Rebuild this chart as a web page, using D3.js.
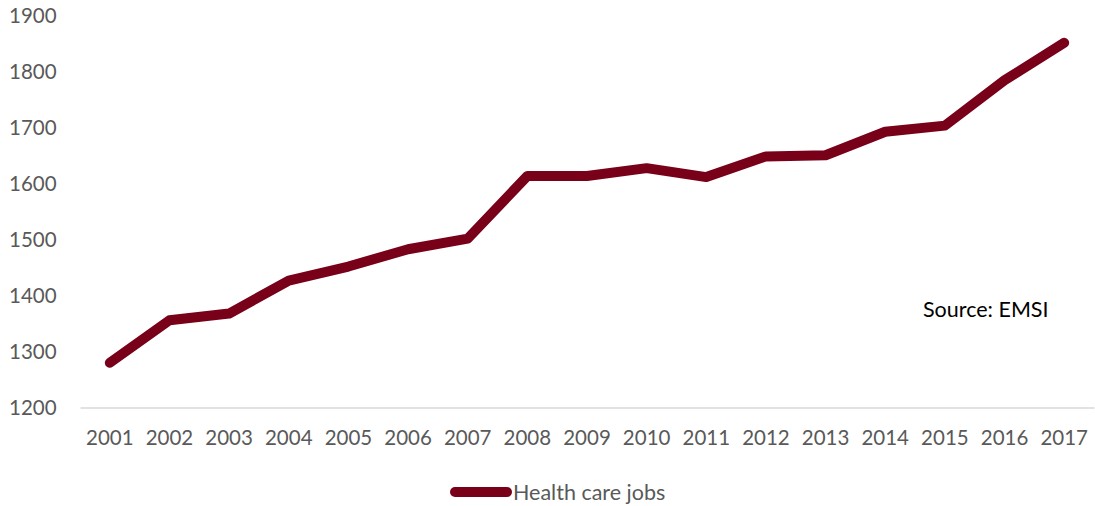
<!DOCTYPE html>
<html>
<head>
<meta charset="utf-8">
<script src="https://cdn.jsdelivr.net/npm/d3@7"></script>
<style>
  html, body { margin: 0; padding: 0; background: #fff; }
  svg { display: block; font-family: Lato, "Open Sans", sans-serif; }
</style>
</head>
<body>
<svg id="chart" width="1095" height="506"></svg>
<script>
// Health care jobs, annual totals
const years = ["2001","2002","2003","2004","2005","2006","2007","2008","2009",
               "2010","2011","2012","2013","2014","2015","2016","2017"];
const jobs = [1280, 1356, 1368, 1427, 1452, 1483, 1502, 1614, 1614,
              1628, 1612, 1649, 1651, 1693, 1704, 1785, 1852];
const yTicks = [1200, 1300, 1400, 1500, 1600, 1700, 1800, 1900];
const seriesName = "Health care jobs";
const sourceNote = "Source: EMSI";

const lineColor = "#780019";
const labelColor = "#595959";

const svg = d3.select("#chart");

const x = d3.scaleBand().domain(years).range([80, 1094]);
const y = d3.scaleLinear().domain([1200, 1900]).range([407.5, 16]);

// Y tick labels (no axis line, no gridlines)
svg.append("g")
  .selectAll("text")
  .data(yTicks)
  .join("text")
  .attr("x", 9)
  .attr("y", d => y(d))
  .attr("dy", "0.35em")
  .attr("font-size", 20.5)
  .attr("fill", labelColor)
  .text(d => d);

// X axis baseline and year labels
const xAxis = d3.axisBottom(x).tickSize(0).tickPadding(23);
const gx = svg.append("g")
  .attr("transform", `translate(0,${y(1200)})`)
  .call(xAxis);
gx.select(".domain").attr("stroke", "#d9d9d9").attr("stroke-width", 1.3);
gx.selectAll("text")
  .attr("font-size", 20.5)
  .attr("font-family", "Lato, 'Open Sans', sans-serif")
  .attr("fill", labelColor);

// Series line
const line = d3.line()
  .x((d, i) => x(years[i]) + x.bandwidth() / 2)
  .y(d => y(d));

svg.append("path")
  .datum(jobs)
  .attr("d", line)
  .attr("fill", "none")
  .attr("stroke", lineColor)
  .attr("stroke-width", 10)
  .attr("stroke-linecap", "round")
  .attr("stroke-linejoin", "round");

// Source note
svg.append("text")
  .attr("x", 923)
  .attr("y", 309)
  .attr("dy", "0.35em")
  .attr("font-size", 21.5)
  .attr("fill", "#000")
  .text(sourceNote);

// Legend
const legend = svg.append("g").attr("transform", "translate(0,492)");
legend.append("line")
  .attr("x1", 455).attr("x2", 507)
  .attr("y1", 0).attr("y2", 0)
  .attr("stroke", lineColor)
  .attr("stroke-width", 10)
  .attr("stroke-linecap", "round");
legend.append("text")
  .attr("x", 513)
  .attr("y", 0)
  .attr("dy", "0.35em")
  .attr("font-size", 21.5)
  .attr("fill", labelColor)
  .text(seriesName);
</script>
</body>
</html>
